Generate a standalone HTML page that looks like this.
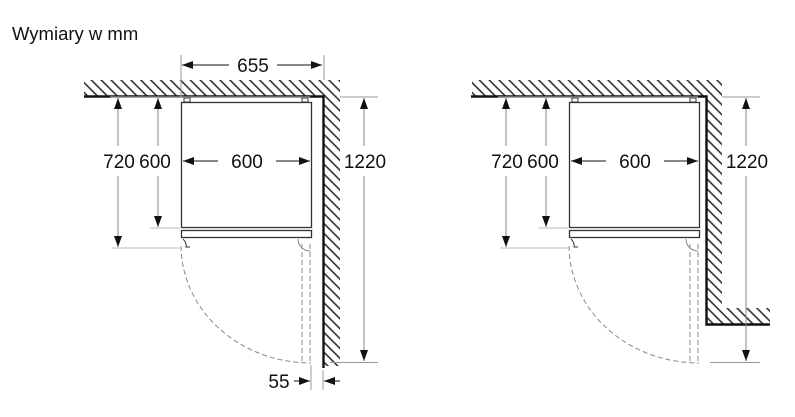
<!DOCTYPE html>
<html><head><meta charset="utf-8"><style>
body{margin:0;background:#fff}
svg{display:block}
text{font-family:"Liberation Sans",sans-serif;fill:#111}
</style></head><body>
<svg width="795" height="417" viewBox="0 0 795 417">
<defs>
<pattern id="h" width="7" height="7" patternUnits="userSpaceOnUse" patternTransform="rotate(-45)">
<line x1="1" y1="0" x2="1" y2="7" stroke="#222" stroke-width="1.5"/>
</pattern>
<marker id="a" markerWidth="12" markerHeight="12" refX="11" refY="5" orient="auto" markerUnits="userSpaceOnUse">
<path d="M0,1 L11,5 L0,9 Z" fill="#111"/>
</marker>
</defs>
<text x="12" y="40" font-size="18.5">Wymiary w mm</text>

<g id="L">
<rect x="84" y="80" width="256" height="16" fill="url(#h)"/>
<rect x="323" y="96" width="17" height="270" fill="url(#h)"/>
<path d="M84,96.5 H323.5 V368" fill="none" stroke="#111" stroke-width="2.4"/>
<rect x="181.5" y="102.5" width="130" height="125" fill="none" stroke="#333" stroke-width="1.3"/>
<rect x="184" y="98" width="6" height="4" fill="none" stroke="#333"/>
<rect x="302" y="98" width="6" height="4" fill="none" stroke="#333"/>
<rect x="181.5" y="230.5" width="130" height="7" fill="none" stroke="#333" stroke-width="1.3"/>
<path d="M183,239 q4,4 3,8 h4" fill="none" stroke="#333"/>
<path d="M181,246 A130,118 0 0 0 311,363" fill="none" stroke="#888" stroke-dasharray="5,3"/>
<path d="M302,244 V363 M310,244 V363" stroke="#888" stroke-dasharray="5,3"/>
<path d="M298,239 a12,12 0 0 0 12,12" fill="none" stroke="#888"/>
<path d="M181,55 V98 M324,55 V80" stroke="#999"/>
<line x1="229" y1="65" x2="182" y2="65" stroke="#111" marker-end="url(#a)"/>
<line x1="277" y1="65" x2="322" y2="65" stroke="#111" marker-end="url(#a)"/>
<text x="253" y="72" font-size="19" text-anchor="middle">655</text>
<line x1="218" y1="161" x2="183" y2="161" stroke="#111" marker-end="url(#a)"/>
<line x1="276" y1="161" x2="310" y2="161" stroke="#111" marker-end="url(#a)"/>
<text x="247" y="168" font-size="19" text-anchor="middle">600</text>
<path d="M110,97 H310 M150,228 H180 M112,248 H180" stroke="#bbb"/>
<line x1="118" y1="146" x2="118" y2="98" stroke="#888" marker-end="url(#a)"/>
<line x1="118" y1="176" x2="118" y2="247" stroke="#888" marker-end="url(#a)"/>
<line x1="158" y1="146" x2="158" y2="98" stroke="#888" marker-end="url(#a)"/>
<line x1="158" y1="176" x2="158" y2="227" stroke="#888" marker-end="url(#a)"/>
<text x="119" y="168" font-size="19" text-anchor="middle">720</text>
<text x="155" y="168" font-size="19" text-anchor="middle">600</text>
<path d="M340,97 H378 M330,362.5 H378" stroke="#999"/>
<line x1="364" y1="146" x2="364" y2="98" stroke="#888" marker-end="url(#a)"/>
<line x1="364" y1="176" x2="364" y2="361" stroke="#888" marker-end="url(#a)"/>
<text x="365" y="168" font-size="19" text-anchor="middle">1220</text>
</g>
<path d="M311,365 V390 M323,370 V390" stroke="#999"/>
<line x1="294" y1="381" x2="310" y2="381" stroke="#111" marker-end="url(#a)"/>
<line x1="340" y1="381" x2="324" y2="381" stroke="#111" marker-end="url(#a)"/>
<text x="279" y="388" font-size="19" text-anchor="middle">55</text>

<g transform="translate(388,0)">
<rect x="84" y="80" width="250" height="16" fill="url(#h)"/>
<rect x="318" y="96" width="16" height="212" fill="url(#h)"/>
<rect x="318" y="308" width="64" height="16" fill="url(#h)"/>
<path d="M83,96.5 H318.5 V324.5 H382" fill="none" stroke="#111" stroke-width="2.4"/>
<rect x="181.5" y="102.5" width="130" height="125" fill="none" stroke="#333" stroke-width="1.3"/>
<rect x="184" y="98" width="6" height="4" fill="none" stroke="#333"/>
<rect x="302" y="98" width="6" height="4" fill="none" stroke="#333"/>
<rect x="181.5" y="230.5" width="130" height="7" fill="none" stroke="#333" stroke-width="1.3"/>
<path d="M183,239 q4,4 3,8 h4" fill="none" stroke="#333"/>
<path d="M181,246 A130,118 0 0 0 311,363" fill="none" stroke="#888" stroke-dasharray="5,3"/>
<path d="M302,244 V363 M310,244 V363" stroke="#888" stroke-dasharray="5,3"/>
<path d="M298,239 a12,12 0 0 0 12,12" fill="none" stroke="#888"/>
<line x1="218" y1="161" x2="183" y2="161" stroke="#111" marker-end="url(#a)"/>
<line x1="276" y1="161" x2="310" y2="161" stroke="#111" marker-end="url(#a)"/>
<text x="247" y="168" font-size="19" text-anchor="middle">600</text>
<path d="M110,97 H310 M150,228 H180 M112,248 H180" stroke="#bbb"/>
<line x1="118" y1="146" x2="118" y2="98" stroke="#888" marker-end="url(#a)"/>
<line x1="118" y1="176" x2="118" y2="247" stroke="#888" marker-end="url(#a)"/>
<line x1="158" y1="146" x2="158" y2="98" stroke="#888" marker-end="url(#a)"/>
<line x1="158" y1="176" x2="158" y2="227" stroke="#888" marker-end="url(#a)"/>
<text x="119" y="168" font-size="19" text-anchor="middle">720</text>
<text x="155" y="168" font-size="19" text-anchor="middle">600</text>
<path d="M334,97 H372 M322,362.5 H372" stroke="#999"/>
<line x1="358" y1="146" x2="358" y2="98" stroke="#888" marker-end="url(#a)"/>
<line x1="358" y1="176" x2="358" y2="361" stroke="#888" marker-end="url(#a)"/>
<text x="359" y="168" font-size="19" text-anchor="middle">1220</text>
</g>
</svg>
</body></html>
